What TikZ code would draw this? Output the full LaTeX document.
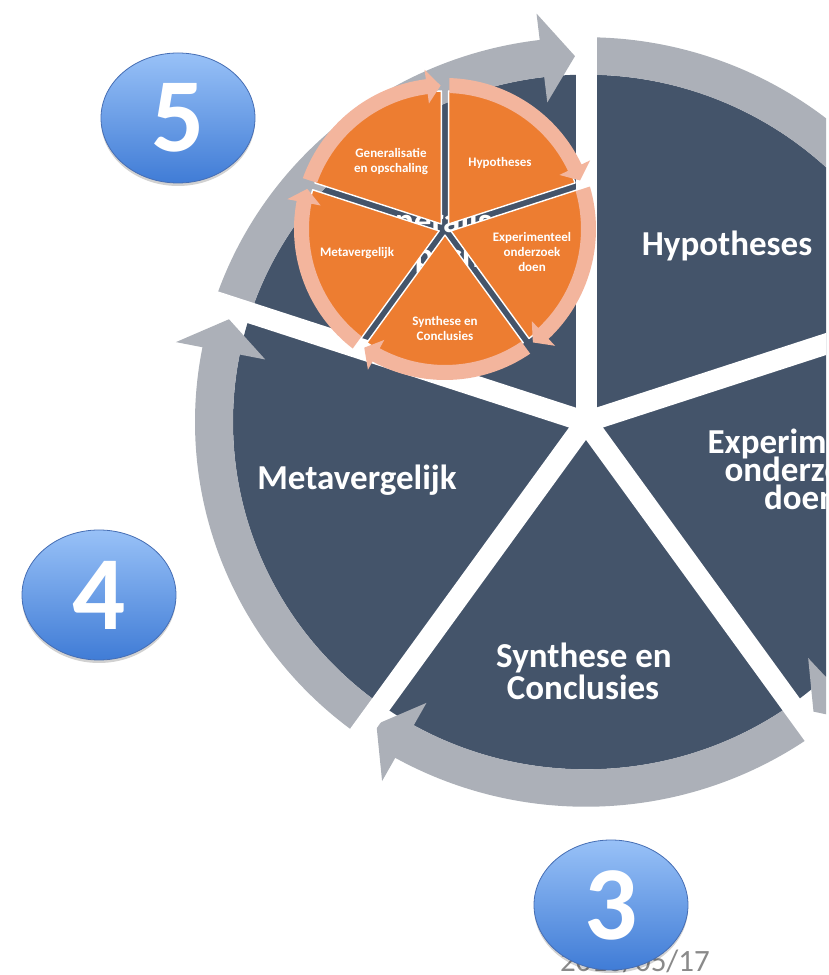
\documentclass[tikz,border=0pt]{standalone}
\usepackage{fontspec}
\setmainfont{Carlito}
\usetikzlibrary{shapes.geometric,shadows}

\definecolor{slate}{HTML}{44546A}
\definecolor{arrowgray}{HTML}{ACB0B8}
\definecolor{orng}{HTML}{ED7D31}
\definecolor{peach}{HTML}{F3B59D}
\definecolor{datgray}{HTML}{8A8A8A}
\definecolor{blueTop}{RGB}{152,193,247}
\definecolor{blueBot}{RGB}{64,124,214}
\definecolor{blueEdge}{RGB}{70,110,180}

% big grey circular arrow: #1 tail angle, #2 head angle (clockwise)
\newcommand{\grayarrow}[2]{%
  \fill[arrowgray] (#1:353) arc[start angle=#1, end angle={#2+6.8}, radius=353]
    -- ({#2+6.8}:327) -- ({#2+1.7}:372) -- ({#2+6.8}:418) -- ({#2+6.8}:391)
    arc[start angle={#2+6.8}, end angle=#1, radius=391] -- cycle;}
% small peach circular arrow
\newcommand{\peacharrow}[2]{%
  \fill[peach] ({#1-1.85}:136) arc[start angle={#1-1.85}, end angle={#2+7.3}, radius=136]
    -- ({#2+7.3}:126.5) -- ({#2+1.76}:143.5) -- ({#2+7.3}:160.5) -- ({#2+7.3}:151)
    arc[start angle={#2+7.3}, end angle={#1-1.67}, radius=151] -- cycle;}
% small orange wedge, #1 = start angle
\newcommand{\orwedge}[1]{%
  \filldraw[fill=orng, draw=white, line width=1.4, line join=round]
    ({#1+36}:6.12) -- ({#1+1.5}:138) arc[start angle={#1+1.5}, end angle={#1+70.5}, radius=138] -- cycle;}

\tikzset{
  bigtxt/.style={text=white, font=\fontsize{35}{35}\selectfont\bfseries, anchor=base, inner sep=0},
  smalltxt/.style={text=white, font=\fontsize{13}{15}\selectfont\bfseries, align=center, inner sep=0},
  numball/.style={ellipse, minimum width=154, minimum height=130, inner sep=0,
    top color=blueTop, bottom color=blueBot, draw=blueEdge, line width=0.8,
    text=white, font=\fontsize{105}{105}\selectfont\bfseries,
    drop shadow={shadow xshift=0, shadow yshift=-3, opacity=0.18, fill=black}},
  spoke/.style={white, line width=21},
}

\begin{document}
\begin{tikzpicture}[x=1pt,y=1pt]
\useasboundingbox (0,0) rectangle (829,975);
\fill[white] (0,0) rectangle (829,975);

\coordinate (bigC) at (586,553);
\coordinate (smC) at (445,746);

% ---------- big segmented cycle ----------
\begin{scope}
  \clip (0,0) rectangle (826,975);
  \begin{scope}[shift={(586,553)}, yscale=0.984]
    \fill[slate] (0,0) circle[radius=353];
    \grayarrow{90}{18}
    \grayarrow{18}{-54}
    \grayarrow{-54}{-126}
    \grayarrow{234}{162}
    \grayarrow{162}{90}
  \end{scope}
  \foreach \a in {90,18,-54,-126,162}
    \draw[spoke] (bigC) -- ++(\a:440);

  \node[bigtxt] (hyp) at (727,719.5) {Hypotheses};
  \node[bigtxt] (exp1) at (813,521) {Experimenteel};
  \node[bigtxt] (exp2) at (801,493) {onderzoek};
  \node[bigtxt] (exp3) at (801,465) {doen};
  \node[bigtxt] (syn1) at (584,307.5) {Synthese en};
  \node[bigtxt] (syn2) at (583,275.5) {Conclusies};
  \node[bigtxt] (meta) at (357,485.5) {Metavergelijk};
  \node[bigtxt] (gen1) at (451,742) {Generalisatie};
  \node[bigtxt] (gen2) at (451,707) {en opschaling};
\end{scope}

% ---------- small orange cycle ----------
\begin{scope}[shift={(445,746)}]
  \orwedge{18}
  \orwedge{-54}
  \orwedge{-126}
  \orwedge{162}
  \orwedge{90}
  \peacharrow{90}{18}
  \peacharrow{18}{-54}
  \peacharrow{-54}{-126}
  \peacharrow{234}{162}
  \peacharrow{162}{90}
\end{scope}

\node[smalltxt] (shyp) at (500,812) {Hypotheses};
\node[smalltxt] (sgen) at (391,813.5) {Generalisatie\\en opschaling};
\node[smalltxt] (smeta) at (357,722) {Metavergelijk};
\node[smalltxt] (sexp) at (532,723) {Experimenteel\\onderzoek\\doen};
\node[smalltxt] (ssyn) at (445,646.5) {Synthese en\\Conclusies};

% ---------- date and number balls ----------
\node[anchor=base west, inner sep=0, text=datgray, font=\fontsize{31}{31}\selectfont] (date) at (560,3) {2016/05/17};

\node[numball] (n5) at (178,857) {5};
\node[numball] (n4) at (99,380) {4};
\node[numball] (n3) at (611,70) {3};
\end{tikzpicture}
\end{document}
